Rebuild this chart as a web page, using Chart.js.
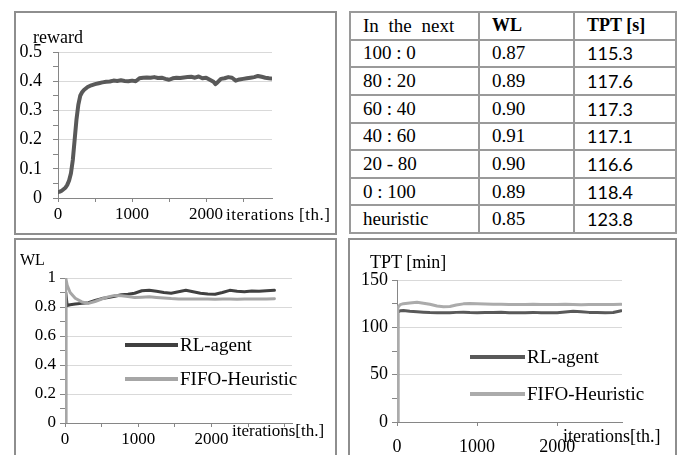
<!DOCTYPE html>
<html>
<head>
<meta charset="utf-8">
<script src="https://cdn.jsdelivr.net/npm/chart.js@4.4.1/dist/chart.umd.min.js"></script>
<style>
  html, body { margin: 0; padding: 0; background: #fff; }
  #page { position: relative; width: 683px; height: 455px; overflow: hidden; background: #fff; }
  .panel { position: absolute; box-sizing: border-box; border: 2px solid #8e8e8e; }
  canvas { position: absolute; left: 0; top: 0; pointer-events: none; }
  .lbl { position: absolute; font-family: "Liberation Serif", "Times New Roman", Times, serif; line-height: 1; color: #000; white-space: nowrap; }
  #tbl { position: absolute; left: 349px; top: 11px; width: 328px; height: 223px; border-collapse: collapse;
         font-family: "Liberation Serif", "Times New Roman", Times, serif; font-size: 19px; color: #000; }
  #tbl td { border: 2px solid #9a9a9a; padding: 0 0 0 12px; vertical-align: middle; white-space: nowrap; }
  #tbl td.c1 { width: 115px; }
  #tbl td.c2 { width: 81px; }
  #tbl td.c3 { font-family: Lato, "Liberation Sans", sans-serif; font-size: 18px; }
  #tbl tr.head td.c1 { word-spacing: 5px; }
  #tbl tr.head td.c2, #tbl tr.head td.c3 { font-weight: bold; font-family: "Liberation Serif", "Times New Roman", serif; font-size: 18px; }
</style>
</head>
<body>
<div id="page">
  <div class="panel" style="left:14px;top:11px;width:323px;height:224px;"></div>
  <div class="panel" style="left:14px;top:238px;width:323px;height:230px;"></div>
  <div class="panel" style="left:348px;top:238px;width:329px;height:230px;"></div>
  <table id="tbl"></table>

  <canvas id="cReward" width="683" height="455"></canvas>
  <canvas id="cWL" width="683" height="455"></canvas>
  <canvas id="cTPT" width="683" height="455"></canvas>

  <div class="lbl" style="left:33px;top:28px;font-size:18px;">reward</div>
  <div class="lbl" style="left:226px;top:206px;font-size:17px;letter-spacing:0.5px;">iterations [th.]</div>
  <div class="lbl" style="left:20px;top:252px;font-size:16px;">WL</div>
  <div class="lbl" style="left:232px;top:422px;font-size:17px;">iterations[th.]</div>
  <div class="lbl" style="left:370px;top:253px;font-size:18px;">TPT [min]</div>
  <div class="lbl" style="left:563px;top:427px;font-size:18px;">iterations[th.]</div>
</div>

<script>
// ---- reward curve (top left) ----
const rewardIter = [0, 25, 50, 75, 100, 125, 150, 175, 200, 225, 250, 275, 300, 325, 350, 400, 450, 500,
  550, 600, 650, 700, 750, 800, 850, 900, 950, 1000, 1050, 1100, 1150, 1200, 1250, 1300, 1350, 1400,
  1450, 1500, 1550, 1600, 1650, 1700, 1750, 1800, 1850, 1900, 1950, 2000, 2050, 2100, 2125, 2150,
  2200, 2250, 2300, 2350, 2400, 2450, 2500, 2550, 2600, 2650, 2700, 2750, 2800, 2850, 2880];
const reward = [0.020, 0.022, 0.025, 0.030, 0.035, 0.045, 0.060, 0.085, 0.130, 0.200, 0.270, 0.320,
  0.350, 0.362, 0.370, 0.380, 0.386, 0.390, 0.393, 0.396, 0.398, 0.399, 0.402, 0.401, 0.403, 0.401,
  0.400, 0.402, 0.400, 0.410, 0.412, 0.413, 0.412, 0.414, 0.411, 0.412, 0.408, 0.405, 0.410, 0.412,
  0.411, 0.413, 0.414, 0.415, 0.412, 0.416, 0.410, 0.412, 0.405, 0.398, 0.390, 0.395, 0.408, 0.410,
  0.414, 0.412, 0.402, 0.406, 0.408, 0.410, 0.412, 0.414, 0.418, 0.415, 0.412, 0.410, 0.409];
const rewardYLabels = [0, 0.1, 0.2, 0.3, 0.4, 0.5];
const rewardXLabels = [0, 1000, 2000];
const rewardXTicks = [0, 500, 1000, 1500, 2000, 2500];

// ---- WL (bottom left) ----
const wlIter = [0, 10, 30, 70, 140, 230, 320, 410, 500, 590, 680, 770, 860, 950, 1050, 1150, 1250,
  1350, 1450, 1550, 1650, 1750, 1850, 1950, 2050, 2150, 2250, 2350, 2450, 2550, 2650, 2750, 2860];
const wlRL = [0, 0.90, 0.81, 0.815, 0.82, 0.825, 0.83, 0.845, 0.858, 0.866, 0.874, 0.884, 0.888, 0.895,
  0.912, 0.915, 0.908, 0.900, 0.895, 0.905, 0.915, 0.905, 0.895, 0.890, 0.888, 0.900, 0.915, 0.908,
  0.905, 0.910, 0.908, 0.912, 0.915];
const wlFIFO = [0, 1.0, 0.95, 0.90, 0.86, 0.835, 0.825, 0.838, 0.855, 0.870, 0.880, 0.878, 0.872, 0.866,
  0.868, 0.870, 0.866, 0.862, 0.858, 0.856, 0.855, 0.856, 0.855, 0.855, 0.854, 0.856, 0.855, 0.854,
  0.855, 0.856, 0.855, 0.856, 0.857];
const wlYLabels = [0, 0.2, 0.4, 0.6, 0.8, 1];
const wlXLabels = [0, 1000, 2000];
const wlXTicks = [0, 500, 1000, 1500, 2000, 2500, 3000];

// ---- TPT (bottom right) ----
const tptIter = [0, 10, 40, 80, 160, 250, 330, 410, 500, 580, 660, 740, 830, 910, 1000, 1100, 1200,
  1300, 1400, 1500, 1600, 1700, 1800, 1900, 2000, 2100, 2200, 2300, 2400, 2500, 2600, 2700, 2800];
const tptRL = [0, 116, 117.5, 117.8, 117, 116.5, 116, 115.6, 115.5, 115.3, 115.5, 115.8, 116, 115.6,
  115.4, 115.6, 115.8, 116, 115.5, 115.3, 115.5, 115.8, 115.4, 115.3, 115.5, 116.2, 117, 116.5, 115.8,
  115.6, 115.3, 115.6, 117.5];
const tptFIFO = [0, 121, 124, 125, 125.8, 126.4, 125.5, 124.3, 122.5, 121.8, 122, 123.5, 124.8, 125.2,
  125, 124.6, 124.3, 124.5, 124.2, 124, 124.2, 124.3, 124.1, 124, 124.2, 124.3, 124, 123.8, 124, 124.2,
  124.1, 124, 124.3];
const tptYLabels = [0, 50, 100, 150];
const tptXLabels = [0, 1000, 2000];
const tptXTicks = [0, 1000, 2000];

// ---- table ----
const tableHead = ['In the next', 'WL', 'TPT [s]'];
const ratios = ['100 : 0', '80 : 20', '60 : 40', '40 : 60', '20 - 80', '0 : 100', 'heuristic'];
const wlTable = ['0.87', '0.89', '0.90', '0.91', '0.90', '0.89', '0.85'];
const tptTable = ['115.3', '117.6', '117.3', '117.1', '116.6', '118.4', '123.8'];

const tbl = document.getElementById('tbl');
let html = '<tr class="head">' + tableHead.map((h, i) => '<td class="c' + (i + 1) + '">' + h + '</td>').join('') + '</tr>';
ratios.forEach(function(r, i) {
  html += '<tr><td class="c1">' + r + '</td><td class="c2">' + wlTable[i] + '</td><td class="c3">' + tptTable[i] + '</td></tr>';
});
tbl.innerHTML = html;

const SERIF = "'Liberation Serif', 'Times New Roman', Times, serif";
Chart.defaults.font.family = SERIF;
Chart.defaults.color = '#000';

// legend drawn inside the plot like the Excel one
const innerLegend = {
  id: 'innerLegend',
  afterDraw(chart, args, opts) {
    if (!opts.items) return;
    const ctx = chart.ctx;
    ctx.save();
    opts.items.forEach(function(it, i) {
      const ds = chart.data.datasets[i];
      ctx.strokeStyle = ds.borderColor;
      ctx.lineWidth = 4;
      ctx.beginPath();
      ctx.moveTo(it.x, it.y);
      ctx.lineTo(it.x + opts.len, it.y);
      ctx.stroke();
      ctx.fillStyle = '#000';
      ctx.font = opts.font;
      ctx.textBaseline = 'middle';
      ctx.fillText(ds.label, it.x + opts.len + 2, it.y + 1);
    });
    ctx.restore();
  }
};
Chart.register(innerLegend);

function near(list, v) {
  return list.some(m => Math.abs(m - v) < 1e-9);
}

function makeChart(id, o) {
  const W = 683, H = 455;
  const yW = 40, xH = 30;
  const step = o.yLabels[1] - o.yLabels[0];
  const yTicks = [];
  o.yLabels.forEach(function(v, i) {
    yTicks.push(v);
    if (i < o.yLabels.length - 1) yTicks.push(v + step / 2);
  });
  return new Chart(document.getElementById(id), {
    type: 'line',
    data: {
      datasets: o.series.map(s => ({
        label: s.label,
        data: o.iter.map((x, i) => ({ x: x, y: s.values[i] })),
        borderColor: s.color,
        borderWidth: s.width,
        pointRadius: 0,
        tension: 0,
        borderJoinStyle: 'round',
        borderCapStyle: 'round',
        order: s.order
      }))
    },
    options: {
      responsive: false,
      animation: false,
      devicePixelRatio: 1,
      layout: {
        padding: {
          left: o.area.left - yW,
          top: o.area.top,
          right: W - o.area.right,
          bottom: H - o.area.bottom - xH
        }
      },
      scales: {
        x: {
          type: 'linear',
          min: 0,
          max: o.xMax,
          afterFit(scale) { scale.height = xH; },
          afterBuildTicks(scale) { scale.ticks = o.xTicks.map(v => ({ value: v })); },
          border: { color: '#868686', width: 1 },
          grid: { drawOnChartArea: false, tickLength: 4, tickColor: '#868686' },
          ticks: {
            maxRotation: 0,
            autoSkip: false,
            padding: o.xPad,
            font: { size: o.xFontSize || o.fontSize, family: SERIF },
            callback: v => near(o.xLabels, v) ? String(v) : ''
          }
        },
        y: {
          type: 'linear',
          min: o.yLabels[0],
          max: o.yLabels[o.yLabels.length - 1],
          afterFit(scale) { scale.width = yW; },
          afterBuildTicks(scale) { scale.ticks = yTicks.map(v => ({ value: v })); },
          border: { color: '#868686', width: 1 },
          grid: {
            color: c => near(o.yLabels, c.tick.value) ? '#d9d9d9' : 'rgba(0,0,0,0)',
            tickColor: '#868686',
            tickLength: 5
          },
          ticks: {
            autoSkip: false,
            padding: o.yPad,
            font: { size: o.fontSize, family: SERIF },
            callback: v => near(o.yLabels, v) ? String(o.yLabels.find(m => Math.abs(m - v) < 1e-9)) : ''
          }
        }
      },
      plugins: {
        legend: { display: false },
        tooltip: { enabled: false },
        innerLegend: o.legend || {}
      }
    }
  });
}

makeChart('cReward', {
  area: { left: 58, top: 52, right: 272, bottom: 198 },
  xMax: 2890, xTicks: rewardXTicks, xLabels: rewardXLabels, yLabels: rewardYLabels,
  fontSize: 18, xFontSize: 17, xPad: 2, yPad: 11,
  iter: rewardIter,
  series: [{ label: 'reward', values: reward, color: '#595959', width: 4, order: 0 }]
});

makeChart('cWL', {
  area: { left: 65, top: 278, right: 292, bottom: 423 },
  xMax: 3100, xTicks: wlXTicks, xLabels: wlXLabels, yLabels: wlYLabels,
  fontSize: 17, xPad: 2, yPad: 4,
  iter: wlIter,
  series: [
    { label: 'RL-agent', values: wlRL, color: '#404040', width: 3, order: 1 },
    { label: 'FIFO-Heuristic', values: wlFIFO, color: '#a6a6a6', width: 3, order: 0 }
  ],
  legend: { len: 53, font: "19px 'Liberation Serif', 'Times New Roman', serif", items: [{ x: 125, y: 345 }, { x: 125, y: 379 }] }
});

makeChart('cTPT', {
  area: { left: 397, top: 280, right: 622, bottom: 422 },
  xMax: 2810, xTicks: tptXTicks, xLabels: tptXLabels, yLabels: tptYLabels,
  fontSize: 18, xPad: 10, yPad: 4,
  iter: tptIter,
  series: [
    { label: 'RL-agent', values: tptRL, color: '#595959', width: 3, order: 1 },
    { label: 'FIFO-Heuristic', values: tptFIFO, color: '#ababab', width: 3, order: 0 }
  ],
  legend: { len: 55, font: "19px 'Liberation Serif', 'Times New Roman', serif", items: [{ x: 470, y: 357 }, { x: 470, y: 394 }] }
});
</script>
</body>
</html>
